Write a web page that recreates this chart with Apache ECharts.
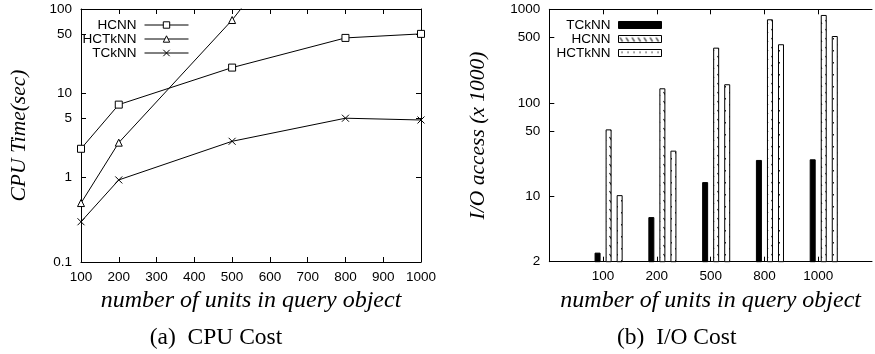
<!DOCTYPE html>
<html><head><meta charset="utf-8">
<script src="https://cdn.jsdelivr.net/npm/echarts@6/dist/echarts.min.js"></script>
<style>
html,body{margin:0;padding:0;background:#fff;}
#a{position:absolute;left:0;top:0;width:440px;height:354px;}
#b{position:absolute;left:440px;top:0;width:435px;height:354px;}
</style></head><body>
<div id="a"></div><div id="b"></div>
<script>
// ---- (a) CPU Cost data ----
const cpuX = [100, 200, 500, 800, 1000];
const cpuHCNN = [2.2, 7.35, 20.2, 45.4, 50.7];
const cpuHCTkNN = [0.5, 2.6, 74, 3700, 10000];
const cpuTCkNN = [0.3, 0.94, 2.7, 5.07, 4.83];
const cpuYTicks = [0.1, 1, 5, 10, 50, 100];
const cpuYTickLabels = ['0.1', '1', '5', '10', '50', '100'];

// ---- (b) I/O Cost data ----
const ioCategories = ['100', '200', '500', '800', '1000'];
const ioTCkNN = [2.5, 6.0, 14.2, 24.5, 24.9];
const ioHCNN = [52, 143, 389, 782, 870];
const ioHCTkNN = [10.3, 30.8, 158, 423, 518];
const ioYTicks = [2, 10, 50, 100, 500, 1000];
const ioYTickLabels = ['2', '10', '50', '100', '500', '1000'];

const SANS = '"Liberation Sans", Arial, Helvetica, sans-serif';
const SERIF = '"Liberation Serif", "Times New Roman", serif';
const lineStyle = {color: '#000', width: 1};
const tickFont = {color: '#000', fontSize: 13.5, fontFamily: SANS};
const titleFont = {color: '#000', fontSize: 24, fontFamily: SERIF, fontStyle: 'italic'};
const yTitleFont = {color: '#000', fontSize: 21.5, fontFamily: SERIF, fontStyle: 'italic'};
const legendText = {fontSize: 13.5, fontFamily: SANS, color: '#000', lineHeight: 14, padding: [0, 3, 0, 0]};

function logLabel(ticks, labels) {
  return function (v) {
    let best = 0, bd = Infinity;
    ticks.forEach((t, i) => {
      const d = Math.abs(Math.log10(v) - Math.log10(t));
      if (d < bd) { bd = d; best = i; }
    });
    return labels[best];
  };
}

// ---------------- Chart A ----------------
const chartA = echarts.init(document.getElementById('a'), null, {renderer: 'canvas'});
function lineSeries(name, vals, symbol) {
  return {
    name: name, type: 'line', clip: true,
    data: cpuX.map((x, i) => [x, vals[i]]),
    symbol: symbol, symbolSize: 7, showSymbol: true,
    color: '#000',
    lineStyle: {color: '#000', width: 1},
    itemStyle: {color: '#fff', borderColor: '#000', borderWidth: 1},
    emphasis: {disabled: true},
    z: 3
  };
}
chartA.setOption({
  animation: false,
  grid: {left: 79, right: 19, top: 9, bottom: 92},
  legend: {
    orient: 'vertical', right: 246, top: 13, align: 'right',
    itemWidth: 44, itemHeight: 8, itemGap: 0,
    lineStyle: {width: 1, color: '#000'},
    itemStyle: {borderWidth: 1, borderColor: '#000', color: '#fff'},
    textStyle: legendText,
    data: ['HCNN', 'HCTkNN', 'TCkNN']
  },
  xAxis: [{
    type: 'value', min: 100, max: 1000, interval: 100, position: 'bottom',
    axisLine: {show: true, onZero: false, lineStyle: lineStyle},
    axisTick: {show: true, inside: true, length: 5, lineStyle: lineStyle},
    axisLabel: Object.assign({margin: 8, formatter: (v) => String(v)}, tickFont),
    splitLine: {show: false},
    name: 'number of units in query object', nameLocation: 'middle', nameGap: 22,
    nameTextStyle: titleFont
  }, {
    type: 'value', min: 100, max: 1000, interval: 100, position: 'top',
    axisLine: {show: true, onZero: false, lineStyle: lineStyle},
    axisTick: {show: true, inside: true, length: 5, lineStyle: lineStyle},
    axisLabel: {show: false}, splitLine: {show: false}
  }],
  yAxis: [{
    type: 'log', logBase: 10, min: 0.1, max: 100, position: 'left',
    axisLine: {show: true, onZero: false, lineStyle: lineStyle},
    axisTick: {show: true, inside: true, length: 5, lineStyle: lineStyle, customValues: cpuYTicks},
    axisLabel: Object.assign({margin: 9, customValues: cpuYTicks, formatter: logLabel(cpuYTicks, cpuYTickLabels)}, tickFont),
    splitLine: {show: false}, minorTick: {show: false},
    name: 'CPU Time(sec)', nameLocation: 'middle', nameGap: 51, nameRotate: 90,
    nameTextStyle: yTitleFont
  }, {
    type: 'log', logBase: 10, min: 0.1, max: 100, position: 'right',
    axisLine: {show: true, onZero: false, lineStyle: lineStyle},
    axisTick: {show: true, inside: true, length: 5, lineStyle: lineStyle, customValues: cpuYTicks},
    axisLabel: {show: false, customValues: cpuYTicks},
    splitLine: {show: false}
  }],
  graphic: [{
    type: 'text', x: 216, y: 338,
    style: {text: '(a)  CPU Cost', textAlign: 'center', textVerticalAlign: 'middle',
      fontSize: 23.5, fontFamily: SERIF, fill: '#000'}
  }],
  series: [
    lineSeries('HCNN', cpuHCNN, 'rect'),
    lineSeries('HCTkNN', cpuHCTkNN, 'triangle'),
    lineSeries('TCkNN', cpuTCkNN, 'path://M0,0L10,10M10,0L0,10')
  ]
});

// ---------------- Chart B ----------------
function makeHatch() {
  const c = document.createElement('canvas');
  c.width = 6; c.height = 9;
  const g = c.getContext('2d');
  g.fillStyle = '#fff'; g.fillRect(0, 0, 6, 9);
  g.strokeStyle = '#111'; g.lineWidth = 1.1;
  g.beginPath(); g.moveTo(1.5, 2); g.lineTo(4, 6); g.stroke();
  return c;
}
function makeDots() {
  const c = document.createElement('canvas');
  c.width = 6; c.height = 12;
  const g = c.getContext('2d');
  g.fillStyle = '#fff'; g.fillRect(0, 0, 6, 12);
  g.fillStyle = '#222';
  g.fillRect(3, 2, 1, 1.5);
  g.fillRect(1, 8, 1, 1.5);
  return c;
}
const chartB = echarts.init(document.getElementById('b'), null, {renderer: 'canvas'});
const xCats = [''].concat(ioCategories, ['']);
function pad(vals) { return ['-'].concat(vals, ['-']); }
const BW = 6, BG = '84%';
chartB.setOption({
  animation: false,
  grid: {left: 109.3, right: -8.5, top: 9.3, bottom: 92.3},
  legend: {
    orient: 'vertical', right: 208, top: 13, align: 'right', icon: 'rect',
    itemWidth: 43, itemHeight: 7, itemGap: 0,
    itemStyle: {borderWidth: 1, borderColor: '#000'},
    textStyle: legendText,
    data: ['TCkNN', 'HCNN', 'HCTkNN']
  },
  xAxis: [{
    type: 'category', data: xCats, boundaryGap: false, position: 'bottom',
    axisLine: {show: true, onZero: false, lineStyle: lineStyle},
    axisTick: {show: true, inside: true, length: 5, lineStyle: lineStyle, interval: (i) => i > 0 && i < xCats.length - 1},
    axisLabel: Object.assign({margin: 8, interval: 0}, tickFont),
    splitLine: {show: false},
    name: 'number of units in query object', nameLocation: 'middle', nameGap: 22,
    nameTextStyle: titleFont
  }, {
    type: 'category', data: xCats, boundaryGap: false, position: 'top',
    axisLine: {show: true, onZero: false, lineStyle: lineStyle},
    axisTick: {show: true, inside: true, length: 5, lineStyle: lineStyle, interval: (i) => i > 0 && i < xCats.length - 1},
    axisLabel: {show: false}, splitLine: {show: false}
  }],
  yAxis: [{
    type: 'log', logBase: 10, min: 2, max: 1000, position: 'left',
    axisLine: {show: true, onZero: false, lineStyle: lineStyle},
    axisTick: {show: true, inside: true, length: 5, lineStyle: lineStyle, customValues: ioYTicks},
    axisLabel: Object.assign({margin: 9, customValues: ioYTicks, formatter: logLabel(ioYTicks, ioYTickLabels)}, tickFont),
    splitLine: {show: false}, minorTick: {show: false},
    name: 'I/O access (x 1000)', nameLocation: 'middle', nameGap: 60, nameRotate: 90,
    nameTextStyle: yTitleFont
  }],
  graphic: [{
    type: 'text', x: 236.7, y: 338,
    style: {text: '(b)  I/O Cost', textAlign: 'center', textVerticalAlign: 'middle',
      fontSize: 23.5, fontFamily: SERIF, fill: '#000'}
  }],
  series: [
    {name: '_spacer', type: 'bar', data: [], barWidth: BW, barGap: BG},
    {name: 'TCkNN', type: 'bar', data: pad(ioTCkNN), barWidth: BW, barGap: BG,
      itemStyle: {color: '#000', borderColor: '#000', borderWidth: 1}, emphasis: {disabled: true}},
    {name: 'HCNN', type: 'bar', data: pad(ioHCNN), barWidth: BW, barGap: BG,
      itemStyle: {color: {image: makeHatch(), repeat: 'repeat'}, borderColor: '#000', borderWidth: 1}, emphasis: {disabled: true}},
    {name: 'HCTkNN', type: 'bar', data: pad(ioHCTkNN), barWidth: BW, barGap: BG,
      itemStyle: {color: {image: makeDots(), repeat: 'repeat'}, borderColor: '#000', borderWidth: 1}, emphasis: {disabled: true}}
  ]
});
</script>
</body></html>
